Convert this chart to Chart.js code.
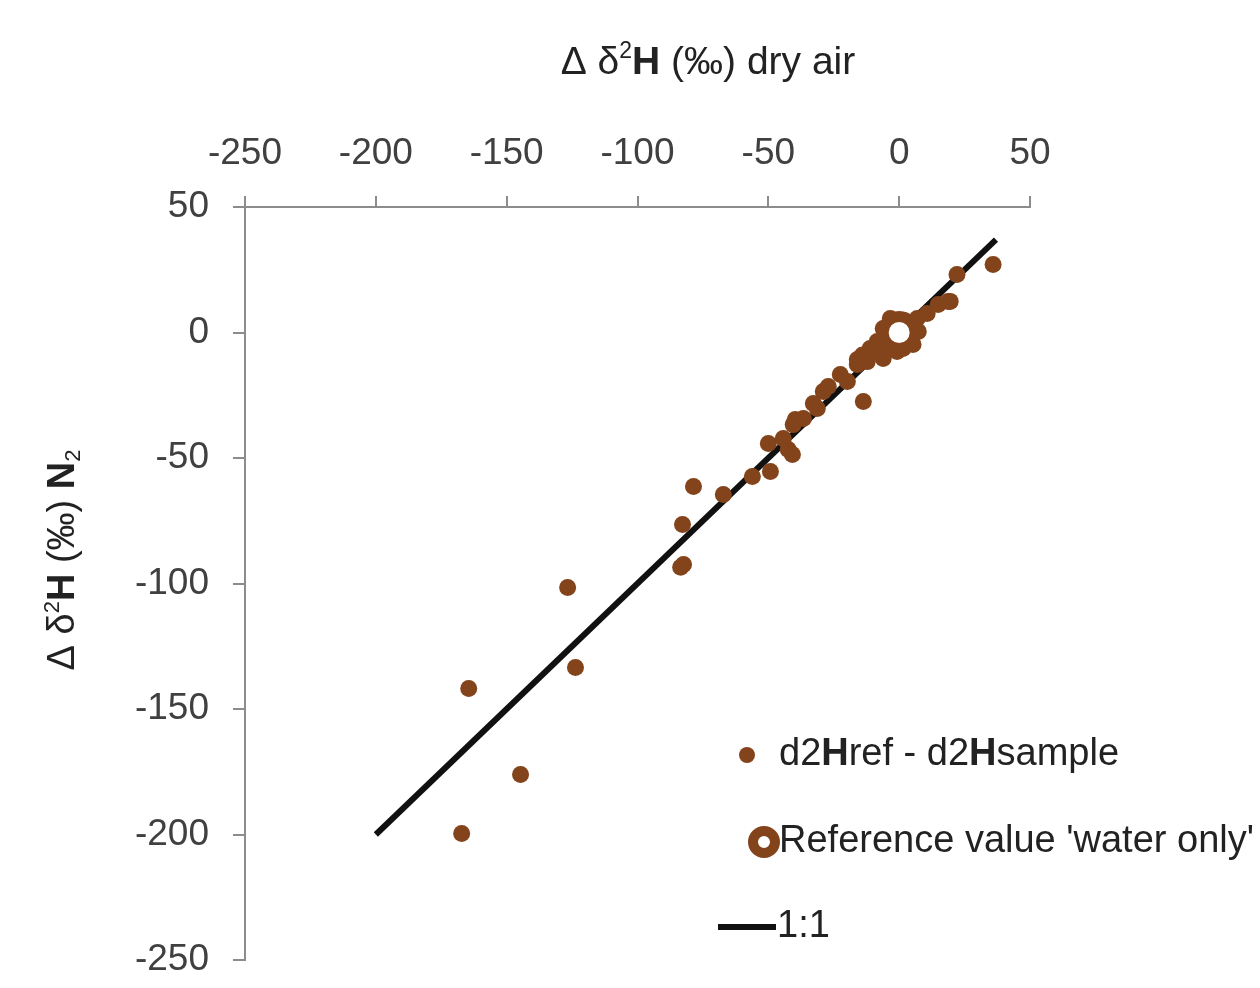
<!DOCTYPE html>
<html>
<head>
<meta charset="utf-8">
<script src="https://cdn.jsdelivr.net/npm/chart.js@4.4.1/dist/chart.umd.min.js"></script>
<style>
  html, body { margin: 0; padding: 0; background: #ffffff; }
  #wrap { width: 1260px; height: 988px; }
</style>
</head>
<body>
<div id="wrap"><canvas id="c" width="1260" height="988"></canvas></div>
<script>
// ---- data ----
const xTickLabels = [-250, -200, -150, -100, -50, 0, 50];
const yTickLabels = [-250, -200, -150, -100, -50, 0, 50];

// d2Href - d2Hsample : dry air (x) vs N2 (y)
const sampleX = [-167.2, -164.5, -144.7, -126.7, -123.7, -78.6, -82.8, -82.4, -83.5, -67.2,
                 -56.1, -49.2, -50.0, -42.4, -40.8, -40.5, -39.7, -13.7, -32.8, -29.0,
                 -27.1, -22.5, -19.8, -16.0, -11.1, -31.3, -36.6, -44.3, 19.5, 14.9,
                 10.7, 6.9, 7.3, 5.3, -3.4, -6.1, -8.4, -9.9, -6.1, -0.8,
                 -12.2, -16.0, -4.6, 1.5, 35.9, 22.1, 18.7, 3.0, -2.0, -14.0];
const sampleY = [-199.6, -141.8, -176.1, -101.6, -133.5, -61.4, -76.5, -92.4, -93.5, -64.5,
                 -57.4, -55.4, -44.2, -46.6, -48.6, -36.7, -34.7, -27.5, -28.3, -23.5,
                 -21.5, -16.7, -19.5, -10.8, -6.4, -30.3, -34.3, -42.2, 12.4, 11.2,
                 7.6, 5.6, 0.4, -4.8, 5.6, 1.6, -3.6, -7.6, -10.4, -7.6,
                 -11.6, -12.7, -4.8, -6.4, 27.1, 23.1, 12.4, 3.5, -1.0, -9.0];

// Reference value 'water only'
const refX = [0];
const refY = [0];

// 1:1 line
const oneToOneX = [-200, 37];
const oneToOneY = [-200, 37];

const seriesNames = ["d2Href - d2Hsample", "Reference value 'water only'", "1:1"];

// ---- styles ----
const BROWN = '#83441b';
const AXIS = '#8c8c8c';
const TXT = '#404040';
const FONT = '"Liberation Sans", Arial, sans-serif';

const toPts = (xs, ys) => xs.map((x, i) => ({ x: x, y: ys[i] }));

// custom legend + titles (mixed bold / superscript text)
const decor = {
  id: 'decor',
  afterDraw(chart) {
    const ctx = chart.ctx;
    ctx.save();
    ctx.fillStyle = '#222';
    ctx.textBaseline = 'middle';

    function runs(parts, x, y, base) {
      let cx = x;
      for (const p of parts) {
        ctx.font = (p.b ? 'bold ' : '') + (p.s || base) + 'px ' + FONT;
        ctx.fillText(p.t, cx, y + (p.dy || 0));
        cx += ctx.measureText(p.t).width;
      }
      return cx - x;
    }
    function width(parts, base) {
      let w = 0;
      for (const p of parts) {
        ctx.font = (p.b ? 'bold ' : '') + (p.s || base) + 'px ' + FONT;
        w += ctx.measureText(p.t).width;
      }
      return w;
    }

    // x-axis title (top)
    ctx.textAlign = 'left';
    const xt = [{t: 'Δ δ'}, {t: '2', s: 23, dy: -11}, {t: 'H', b: true}, {t: ' (‰) dry air'}];
    const xw = width(xt, 39);
    runs(xt, 708 - xw / 2, 63, 39);

    // y-axis title (rotated)
    const yt = [{t: 'Δ δ'}, {t: '2', s: 22, dy: -11}, {t: 'H', b: true}, {t: ' (‰) '}, {t: 'N', b: true}, {t: '2', s: 22, dy: 10}];
    const yw = width(yt, 38);
    ctx.save();
    ctx.translate(64, 560);
    ctx.rotate(-Math.PI / 2);
    runs(yt, -yw / 2, 0, 38);
    ctx.restore();

    // legend
    const ds = chart.data.datasets;
    // item 1
    ctx.fillStyle = ds[0].backgroundColor;
    ctx.beginPath(); ctx.arc(747, 755, 8, 0, Math.PI * 2); ctx.fill();
    ctx.fillStyle = '#222';
    runs([{t: 'd2'}, {t: 'H', b: true}, {t: 'ref - d2'}, {t: 'H', b: true}, {t: 'sample'}], 779, 755, 38);
    // item 2
    ctx.beginPath(); ctx.arc(764, 842, 11, 0, Math.PI * 2);
    ctx.lineWidth = 10; ctx.strokeStyle = ds[1].borderColor; ctx.stroke();
    ctx.fillStyle = '#fff';
    ctx.beginPath(); ctx.arc(764, 842, 5, 0, Math.PI * 2); ctx.fill();
    ctx.fillStyle = '#222';
    runs([{t: ds[1].label}], 779, 842, 38);
    // item 3
    ctx.strokeStyle = ds[2].borderColor; ctx.lineWidth = 6;
    ctx.beginPath(); ctx.moveTo(718, 927); ctx.lineTo(776, 927); ctx.stroke();
    runs([{t: ds[2].label}], 777, 927, 38);
    ctx.restore();
  }
};

new Chart(document.getElementById('c'), {
  type: 'scatter',
  data: {
    datasets: [
      {
        label: seriesNames[0],
        data: toPts(sampleX, sampleY),
        backgroundColor: BROWN,
        borderColor: BROWN,
        borderWidth: 0,
        pointRadius: 8.5,
        order: 2
      },
      {
        label: seriesNames[1],
        data: toPts(refX, refY),
        backgroundColor: '#ffffff',
        borderColor: BROWN,
        borderWidth: 11,
        pointRadius: 16,
        order: 1
      },
      {
        label: seriesNames[2],
        type: 'line',
        data: toPts(oneToOneX, oneToOneY),
        borderColor: '#111111',
        borderWidth: 6,
        pointRadius: 0,
        showLine: true,
        fill: false,
        order: 3
      }
    ]
  },
  options: {
    responsive: false,
    animation: false,
    layout: { padding: { left: 0, top: 0, right: 230, bottom: 28 } },
    plugins: {
      legend: { display: false },
      tooltip: { enabled: false }
    },
    scales: {
      x: {
        type: 'linear',
        position: 'top',
        min: -250, max: 50,
        afterBuildTicks: s => { s.ticks = xTickLabels.map(v => ({ value: v })); },
        afterFit: s => { s.height = 207; s.paddingLeft = 0; s.paddingRight = 0; },
        ticks: { color: TXT, font: { family: FONT, size: 37 }, padding: 20 },
        grid: { drawOnChartArea: false, drawTicks: true, tickLength: 11, color: AXIS, lineWidth: 2 },
        border: { display: true, color: AXIS, width: 2 }
      },
      y: {
        type: 'linear',
        position: 'left',
        min: -250, max: 50,
        afterBuildTicks: s => { s.ticks = yTickLabels.map(v => ({ value: v })); },
        afterFit: s => { s.width = 245; s.paddingTop = 0; s.paddingBottom = 0; },
        ticks: { color: TXT, font: { family: FONT, size: 37 }, padding: 24 },
        grid: { drawOnChartArea: false, drawTicks: true, tickLength: 12, color: AXIS, lineWidth: 2 },
        border: { display: true, color: AXIS, width: 2 }
      }
    }
  },
  plugins: [decor]
});
</script>
</body>
</html>
